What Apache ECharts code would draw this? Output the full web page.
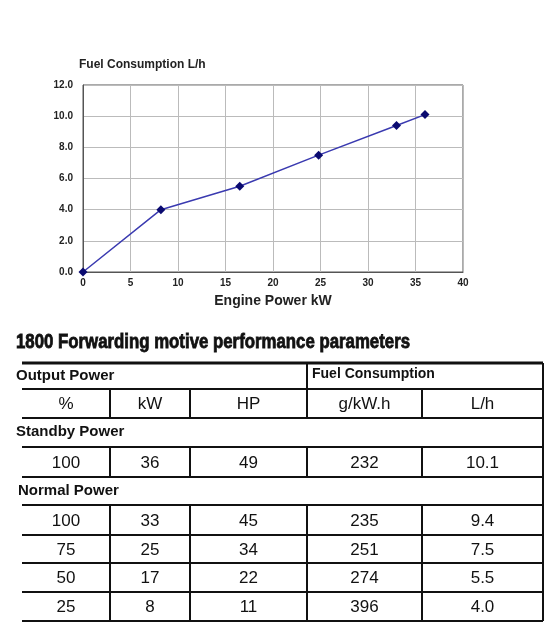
<!DOCTYPE html>
<html><head><meta charset="utf-8">
<script src="https://cdn.jsdelivr.net/npm/echarts@6/dist/echarts.min.js"></script>
<style>html,body{margin:0;padding:0;background:#fff}#c{width:560px;height:625px}</style>
</head><body><div id="c"></div>
<script>
const powerKW = [0, 8.2, 16.5, 24.8, 33, 36];
const fuelLh = [0, 4.0, 5.5, 7.5, 9.4, 10.1];
const tableTitle = '1800 Forwarding motive performance parameters';
const headerRow = ['%', 'kW', 'HP', 'g/kW.h', 'L/h'];
const standbyRow = ['100', '36', '49', '232', '10.1'];
const normalRows = [
  ['100', '33', '45', '235', '9.4'],
  ['75', '25', '34', '251', '7.5'],
  ['50', '17', '22', '274', '5.5'],
  ['25', '8', '11', '396', '4.0']
];

const chart = echarts.init(document.getElementById('c'));
const F = 'Liberation Sans, Arial, sans-serif';
const colX = [22, 110, 190, 307, 422, 543];
const g = [];
function hline(y, x1, x2, w){ g.push({type:'line',shape:{x1:x1||22,y1:y,x2:x2||543,y2:y},style:{stroke:'#111',lineWidth:w||2}}); }
function vline(x, y1, y2){ g.push({type:'line',shape:{x1:x,y1:y1,x2:x,y2:y2},style:{stroke:'#111',lineWidth:2}}); }
function txt(x, y, s, opt){ g.push({type:'text',x:x,y:y,style:Object.assign({text:s,font:'17px '+F,fill:'#111',textAlign:'center',textVerticalAlign:'middle'},opt||{})}); }
function row(vals, y1, y2){
  for (let i=0;i<5;i++) txt((colX[i]+colX[i+1])/2, (y1+y2)/2+1, vals[i]);
  for (let i=1;i<5;i++) vline(colX[i], y1, y2);
}
g.push({type:'text',x:16,y:342,scaleX:0.84,originX:0,style:{text:tableTitle,font:'bold 20px '+F,fill:'#111',stroke:'#111',lineWidth:0.8,textVerticalAlign:'middle'}});
const lines = [363, 389, 418, 447, 477, 505, 535, 563, 592, 621];
lines.forEach((y,i)=>hline(y, 22, 543, i===0?3:2));
vline(543, 363, 621);
vline(307, 363, 389);
txt(16, 376, 'Output Power', {textAlign:'left', font:'bold 15px '+F});
txt(312, 374, 'Fuel Consumption', {textAlign:'left', font:'bold 14px '+F});
row(headerRow, 389, 418);
txt(16, 432, 'Standby Power', {textAlign:'left', font:'bold 15px '+F});
row(standbyRow, 447, 477);
txt(18, 491, 'Normal Power', {textAlign:'left', font:'bold 15px '+F});
normalRows.forEach((r,i)=>row(r, lines[5+i], lines[6+i]));

chart.setOption({
  animation:false,
  title:{text:'Fuel Consumption L/h',left:74,top:54,textStyle:{fontSize:12,fontWeight:'bold',color:'#222',fontFamily:F}},
  grid:{left:83,top:85,width:380,height:187},
  xAxis:{type:'value',min:0,max:40,interval:5,name:'Engine Power kW',nameLocation:'middle',nameGap:22,
    nameTextStyle:{fontSize:14,fontWeight:'bold',color:'#222',fontFamily:F},
    axisLine:{lineStyle:{color:'#555'}},axisTick:{show:false},
    axisLabel:{fontSize:10,fontWeight:'bold',color:'#222',fontFamily:F,margin:6},
    splitLine:{lineStyle:{color:'#bbb'}}},
  yAxis:{type:'value',min:0,max:12,interval:2,
    axisLine:{show:true,lineStyle:{color:'#555'}},axisTick:{show:false},
    axisLabel:{fontSize:10,fontWeight:'bold',color:'#222',fontFamily:F,formatter:v=>v.toFixed(1),margin:10},
    splitLine:{lineStyle:{color:'#bbb'}}},
  series:[{type:'line',data:powerKW.map((x,i)=>[x,fuelLh[i]]),symbol:'diamond',symbolSize:9,
    lineStyle:{color:'#3a3ab0',width:1.5},itemStyle:{color:'#0a0a70'}}],
  graphic:[{type:'rect',shape:{x:83,y:85,width:380,height:187},style:{fill:'none',stroke:'#555',lineWidth:1},silent:true},
    {type:'group',children:g}]
});
</script></body></html>
